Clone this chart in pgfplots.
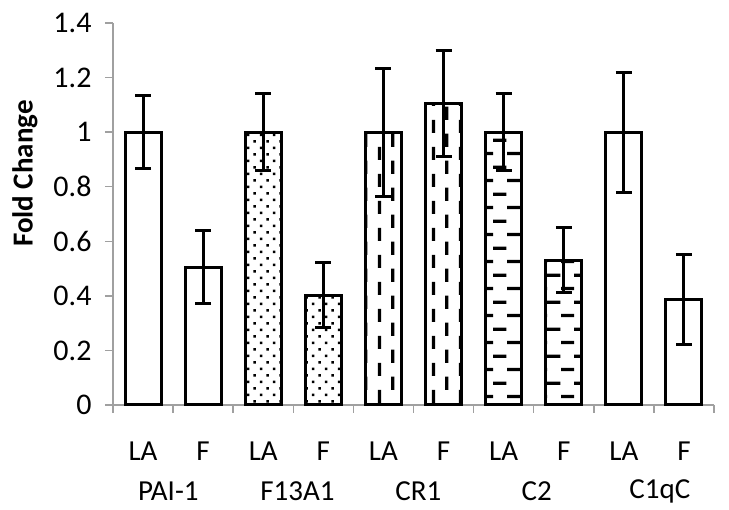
\documentclass[border=0pt]{standalone}
\usepackage{fontspec}
\setmainfont{Carlito}
\usepackage{pgfplots}
\pgfplotsset{compat=1.18}
\usetikzlibrary{patterns}
\pgfdeclarepatternformonly{mydots}{\pgfqpoint{0pt}{0pt}}{\pgfqpoint{13.33pt}{13.33pt}}{\pgfqpoint{13.33pt}{13.33pt}}{%
  \pgfpathrectangle{\pgfqpoint{1.5pt}{1.5pt}}{\pgfqpoint{2.6pt}{2.6pt}}%
  \pgfpathrectangle{\pgfqpoint{8.17pt}{8.17pt}}{\pgfqpoint{2.6pt}{2.6pt}}%
  \pgfusepath{fill}}
\pgfdeclarepatternformonly{myvdash}{\pgfqpoint{0pt}{0pt}}{\pgfqpoint{26.67pt}{26.67pt}}{\pgfqpoint{26.67pt}{26.67pt}}{%
  \pgfpathrectangle{\pgfqpoint{5pt}{0pt}}{\pgfqpoint{3.2pt}{13.33pt}}%
  \pgfpathrectangle{\pgfqpoint{18.33pt}{13.33pt}}{\pgfqpoint{3.2pt}{13.33pt}}%
  \pgfusepath{fill}}
\pgfdeclarepatternformonly{myhdash}{\pgfqpoint{0pt}{0pt}}{\pgfqpoint{26.67pt}{26.67pt}}{\pgfqpoint{26.67pt}{26.67pt}}{%
  \pgfpathrectangle{\pgfqpoint{0pt}{5pt}}{\pgfqpoint{13.33pt}{3.2pt}}%
  \pgfpathrectangle{\pgfqpoint{13.33pt}{18.33pt}}{\pgfqpoint{13.33pt}{3.2pt}}%
  \pgfusepath{fill}}
\definecolor{axgray}{RGB}{160,160,160}
\pgfplotsset{
  mybar/.style={ybar, bar width=36pt, bar shift=0pt, draw=black, line width=3pt,
    error bars/.cd, y dir=both, y explicit,
    error bar style={line width=3pt, black},
    error mark options={rotate=90, mark size=8pt, line width=3pt, black}},
}
\begin{document}
\begin{tikzpicture}[font=\fontsize{29}{34}\selectfont]
\begin{axis}[
  scale only axis, width=601pt, height=382pt,
  xmin=-0.5, xmax=9.5, ymin=0, ymax=1.4,
  clip=false,
  axis x line*=bottom, axis y line*=left,
  axis line style={draw=axgray, line width=1.5pt},
  tick align=outside,
  /pgf/number format/assume math mode=true,
  ytick={0,0.2,0.4,0.6,0.8,1,1.2,1.4},
  yticklabel={\pgfmathprintnumber{\tick}},
  major tick length=8pt, minor tick length=8pt,
  y tick style={draw=axgray, line width=1.5pt},
  xtick={0,...,9},
  xticklabels={LA,F,LA,F,LA,F,LA,F,LA,F},
  x tick style={draw=none},
  minor xtick={-0.5,0.5,1.5,2.5,3.5,4.5,5.5,6.5,7.5,8.5,9.5},
  minor x tick style={draw=axgray, line width=1.5pt},
  x tick label style={font=\fontsize{29}{34}\selectfont, yshift=-25pt},
  y tick label style={font=\fontsize{30}{35}\selectfont, xshift=-10pt},
]
\addplot[mybar] coordinates {(0,1.0) +- (0,0.135) (1,0.505) +- (0,0.133)};
\addplot[pattern=mydots, mybar] coordinates {(2,1.0) +- (0,0.14) (3,0.403) +- (0,0.12)};
\addplot[pattern=myvdash, mybar] coordinates {(4,1.0) +- (0,0.235) (5,1.105) +- (0,0.193)};
\addplot[pattern=myhdash, mybar] coordinates {(6,1.0) +- (0,0.142) (7,0.531) +- (0,0.12)};
\addplot[mybar] coordinates {(8,1.0) +- (0,0.22) (9,0.388) +- (0,0.165)};
\node[font=\fontsize{29}{34}\selectfont] at ([yshift=-86pt]axis cs:0.42,0) {PAI-1};
\node[font=\fontsize{29}{34}\selectfont] at ([yshift=-86pt]axis cs:2.57,0) {F13A1};
\node[font=\fontsize{29}{34}\selectfont] at ([yshift=-86pt]axis cs:4.58,0) {CR1};
\node[font=\fontsize{29}{34}\selectfont] at ([yshift=-86pt]axis cs:6.55,0) {C2};
\node[font=\fontsize{29}{34}\selectfont] at ([yshift=-86pt]axis cs:8.6,0) {C1qC};
\node[rotate=90, font=\fontsize{29}{34}\selectfont\bfseries] at ([xshift=-88pt]rel axis cs:0,0.606) {Fold Change};
\coordinate (bl) at ([shift={(-113pt,-105pt)}]rel axis cs:0,0);
\coordinate (tr) at ([shift={(15pt,23pt)}]rel axis cs:1,1);
\end{axis}
\pgfresetboundingbox
\path[use as bounding box] (bl) rectangle (tr);
\end{tikzpicture}
\end{document}
